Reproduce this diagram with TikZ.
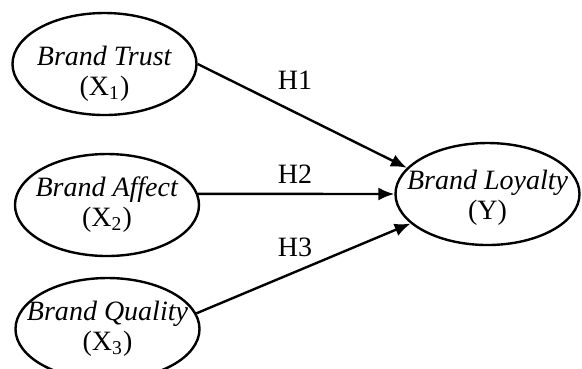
\documentclass[tikz,border=0pt]{standalone}
\usepackage{fontspec}
\setmainfont{Liberation Serif}
\usetikzlibrary{shapes.geometric,arrows.meta}
\tikzset{%
	construct/.style = {draw, line width=1.2bp, ellipse, inner sep=0pt,
		minimum width=92bp, minimum height=51bp,
		font=\fontsize{14bp}{15bp}\selectfont}, % latent variable
	hyp/.style       = {font=\fontsize{14bp}{15bp}\selectfont}, % hypothesis label
	path/.style      = {line width=1.2bp, -{Latex[length=8bp,width=6.5bp]}}
}
% text of a construct, kept out of the size of the ellipse
\newcommand{\cname}[3][0bp]{\raisebox{#1}[\height][\depth]{\makebox[0pt]{\begin{tabular}{@{}c@{}}\textit{#2}\\(#3)\end{tabular}}}}
\begin{document}
\begin{tikzpicture}[x=0.5bp,y=-0.5bp]
	\useasboundingbox (0,0) rectangle (582,368);
	
	\node[construct] at (104.5,64) (trust) {\cname[-5bp]{Brand Trust}{X\textsubscript{1}}};
	\node[construct] at (107,205) (affect) {\cname{Brand Affect}{X\textsubscript{2}}};
	\node[construct] at (107.5,329) (quality) {\cname{Brand Quality}{X\textsubscript{3}}};
	\node[construct] at (487.5,194) (loyalty) {\cname[-2bp]{Brand Loyalty}{Y}};
	\node[hyp] at (295,80) (h1) {H1};
	\node[hyp] at (295,174) (h2) {H2};
	\node[hyp] at (295,247) (h3) {H3};
	
	\draw[path] (trust.east) -- (loyalty.162);
	\draw[path] (affect.7) -- (loyalty.west);
	\draw[path] (quality.10) -- (loyalty.201);
	
\end{tikzpicture}
\end{document}
